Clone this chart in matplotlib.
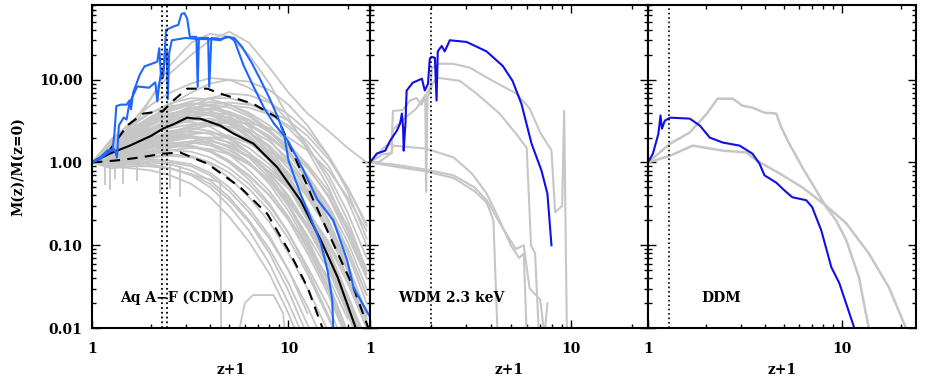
import numpy as np
import matplotlib
matplotlib.use("Agg")
import matplotlib.pyplot as plt
from matplotlib.ticker import LogLocator, FixedLocator, FixedFormatter, NullFormatter

plt.rcParams['font.family'] = ['DejaVu Serif']
plt.rcParams['font.weight'] = 'bold'

GRAY = '#c6c6c6'
BLUE_CDM = '#1f66ff'
BLUE = '#1010e6'

# ---------------- Panel 1: Aq A-F (CDM) ----------------
cdm_x = [1, 1.25, 1.6, 2.0, 2.5, 3.2, 4.0, 5.0, 6.3, 8.0, 10, 12.5, 16, 20, 25]
cdm_gray = [
    [1, 1.1, 1.3, 1.5, 1.7, 1.8, 1.7, 1.4, 1.0, 0.6, 0.3, 0.13, 0.05, 0.015, 0.004],
    [1, 1.2, 1.6, 2.0, 2.4, 2.6, 2.4, 1.9, 1.3, 0.75, 0.38, 0.16, 0.055, 0.016, 0.004],
    [1, 1.5, 2.2, 3.0, 3.8, 4.4, 4.2, 3.4, 2.3, 1.3, 0.65, 0.28, 0.09, 0.025, 0.006],
    [1, 0.95, 1.0, 1.05, 1.0, 0.9, 0.7, 0.45, 0.25, 0.12, 0.05, 0.018, 0.005],
    [1, 1.3, 1.9, 2.6, 3.3, 4.0, 4.4, 4.0, 3.0, 1.9, 1.0, 0.45, 0.15, 0.04, 0.01],
    [1, 1.05, 1.2, 1.35, 1.4, 1.35, 1.15, 0.85, 0.55, 0.3, 0.14, 0.055, 0.018, 0.005],
    [1, 1.7, 2.8, 4.0, 5.2, 6.0, 5.8, 5.0, 3.8, 2.5, 1.3, 0.6, 0.2, 0.055, 0.013],
    [1, 1.15, 1.45, 1.75, 2.0, 2.1, 1.9, 1.5, 1.0, 0.55, 0.26, 0.1, 0.03, 0.008],
    [1, 1.4, 2.0, 2.6, 3.0, 3.1, 2.7, 2.0, 1.3, 0.7, 0.32, 0.12, 0.035, 0.009],
    [1, 1.2, 1.5, 1.8, 2.2, 2.7, 3.0, 3.0, 2.5, 1.8, 1.1, 0.55, 0.2, 0.06, 0.015],
    [1, 1.0, 1.1, 1.2, 1.25, 1.2, 1.0, 0.75, 0.48, 0.26, 0.12, 0.045, 0.013, 0.004],
    [1, 1.6, 2.5, 3.4, 4.4, 5.2, 5.0, 4.0, 2.7, 1.5, 0.7, 0.28, 0.08, 0.02, 0.005],
    [1, 1.25, 1.7, 2.2, 2.8, 3.5, 3.8, 3.5, 2.8, 2.0, 1.3, 0.7, 0.3, 0.11, 0.03],
    [1, 0.9, 0.95, 1.0, 0.95, 0.8, 0.6, 0.38, 0.2, 0.09, 0.035, 0.011, 0.003],
    [1, 1.35, 1.9, 2.5, 3.2, 3.8, 3.7, 3.0, 2.0, 1.1, 0.5, 0.2, 0.06, 0.015, 0.004],
    [1, 1.1, 1.35, 1.6, 1.9, 2.2, 2.3, 2.1, 1.7, 1.2, 0.75, 0.4, 0.16, 0.055, 0.015],
    [1, 1.8, 3.2, 5.0, 7.0, 9.0, 10.5, 10.0, 8.0, 5.5, 3.2, 1.6, 0.6, 0.2, 0.05],
    [1, 1.5, 2.4, 3.5, 5.0, 7.0, 9.0, 10.0, 9.5, 7.5, 5.0, 2.8, 1.2, 0.45, 0.12],
    [1, 1.3, 2.5, 6.0, 15.0, 28.0, 36.0, 33.0, 20.0, 9.0, 3.5, 1.4, 0.5, 0.15, 0.04],
    [1, 1.5, 3.0, 6.0, 12.0, 20.0, 30.0, 38.0, 28.0, 14.0, 7.0, 3.9, 2.4, 1.5, 1.0],
    [1, 1.2, 1.6, 2.1, 2.7, 3.3, 3.4, 2.9, 2.0, 1.2, 0.6, 0.25, 0.08, 0.02, 0.005],
    [1, 1.1, 1.3, 1.5, 1.6, 1.6, 1.4, 1.05, 0.7, 0.4, 0.2, 0.08, 0.025, 0.007],
    [1, 1.45, 2.2, 3.0, 3.8, 4.6, 5.0, 4.6, 3.6, 2.4, 1.4, 0.7, 0.28, 0.09, 0.025],
    [1, 1.05, 1.15, 1.3, 1.5, 1.7, 1.8, 1.6, 1.2, 0.75, 0.4, 0.17, 0.06, 0.017, 0.005],
    [1, 1.25, 1.6, 2.0, 2.3, 2.4, 2.2, 1.7, 1.15, 0.65, 0.3, 0.11, 0.03, 0.008],
    [1, 0.95, 1.05, 1.15, 1.2, 1.15, 0.95, 0.65, 0.38, 0.19, 0.08, 0.03, 0.009],
    [1, 1.9, 3.0, 4.0, 4.8, 5.2, 4.8, 3.7, 2.4, 1.35, 0.65, 0.26, 0.08, 0.02, 0.005],
    [1, 1.35, 1.8, 2.4, 3.1, 3.7, 4.0, 3.8, 3.2, 2.4, 1.6, 0.95, 0.45, 0.17, 0.05],
    [1, 1.15, 1.4, 1.7, 2.0, 2.3, 2.3, 2.0, 1.5, 0.95, 0.5, 0.22, 0.08, 0.022, 0.006],
    [1, 0.85, 0.9, 0.9, 0.85, 0.7, 0.5, 0.3, 0.15, 0.06, 0.02, 0.006],
    [1, 1.3, 1.7, 2.2, 2.9, 3.7, 4.5, 4.9, 4.6, 3.8, 2.8, 1.8, 0.9, 0.35, 0.1],
    [1, 1.1, 1.25, 1.4, 1.6, 1.8, 2.0, 2.0, 1.8, 1.4, 0.95, 0.55, 0.25, 0.09, 0.025],
    [1, 1.6, 2.6, 3.6, 4.6, 5.5, 6.0, 6.0, 5.2, 3.9, 2.6, 1.5, 0.7, 0.25, 0.07],
    [1, 1.0, 1.2, 1.4, 1.55, 1.55, 1.35, 1.0, 0.62, 0.32, 0.14, 0.05, 0.014, 0.004],
    [1, 0.9, 0.85, 0.8, 0.7, 0.55, 0.38, 0.22, 0.11, 0.045, 0.015, 0.004],
    [1, 0.95, 0.95, 0.9, 0.85, 0.72, 0.55, 0.35, 0.19, 0.08, 0.028, 0.008],
    [1, 1.0, 1.05, 1.1, 1.05, 0.95, 0.75, 0.5, 0.28, 0.13, 0.05, 0.015],
    [1, 1.3, 1.8, 2.3, 2.9, 3.3, 3.2, 2.6, 1.8, 1.05, 0.52, 0.22, 0.07, 0.02, 0.005],
    [1, 1.2, 1.55, 1.9, 2.3, 2.8, 3.2, 3.3, 2.9, 2.1, 1.3, 0.65, 0.25, 0.08, 0.02],
    [1, 1.4, 2.1, 2.9, 3.6, 4.1, 3.9, 3.1, 2.1, 1.2, 0.6, 0.25, 0.08, 0.022, 0.006],
    [1, 1.1, 1.4, 1.7, 2.1, 2.5, 2.8, 2.7, 2.3, 1.6, 0.95, 0.48, 0.18, 0.055, 0.015],
    [1, 1.25, 1.6, 1.9, 2.1, 2.0, 1.7, 1.25, 0.8, 0.45, 0.22, 0.09, 0.028, 0.008],
    [1, 1.5, 2.3, 3.2, 4.2, 5.0, 5.4, 5.0, 4.0, 2.8, 1.7, 0.9, 0.38, 0.13, 0.04],
    [1, 1.05, 1.25, 1.5, 1.8, 2.0, 2.0, 1.75, 1.3, 0.85, 0.5, 0.26, 0.1, 0.035, 0.01],
    [1, 1.3, 1.75, 2.2, 2.6, 2.9, 2.9, 2.5, 1.9, 1.25, 0.75, 0.38, 0.15, 0.05, 0.014],
    [1, 1.2, 1.45, 1.7, 1.9, 2.0, 1.85, 1.55, 1.15, 0.78, 0.48, 0.26, 0.11, 0.04, 0.012],
    [1, 1.6, 2.4, 3.2, 3.9, 4.4, 4.5, 4.1, 3.3, 2.3, 1.5, 0.85, 0.4, 0.15, 0.045],
    [1, 1.15, 1.35, 1.55, 1.7, 1.75, 1.6, 1.3, 0.95, 0.6, 0.34, 0.16, 0.06, 0.02, 0.006],
    [1, 1.35, 1.9, 2.6, 3.4, 4.3, 5.0, 5.3, 5.0, 4.2, 3.2, 2.1, 1.1, 0.5, 0.18],
    [1, 1.7, 2.6, 3.3, 3.9, 4.2, 3.9, 3.2, 2.3, 1.5, 0.85, 0.42, 0.16, 0.05, 0.013],
    [1, 1.0, 1.1, 1.25, 1.4, 1.5, 1.45, 1.25, 0.95, 0.62, 0.36, 0.18, 0.07, 0.025, 0.007],
    [1, 1.4, 2.0, 2.8, 3.7, 4.8, 6.0, 6.8, 6.5, 5.3, 3.8, 2.4, 1.2, 0.5, 0.17],
    [1, 1.25, 1.5, 1.65, 1.7, 1.6, 1.35, 1.0, 0.68, 0.4, 0.21, 0.1, 0.04, 0.013],
    [1, 1.1, 1.3, 1.6, 2.0, 2.5, 2.9, 3.1, 3.0, 2.6, 2.0, 1.4, 0.8, 0.38, 0.15],
]
# a few irregular gray tracks with their own sampling
cdm_extra_x = [
    [1, 1.25, 1.6, 2.0, 2.5, 3.2, 4.0, 4.5, 4.55],
    [5.3, 6.0, 6.6, 8.4, 9.4, 9.8],
]
cdm_extra_y = [
    [1, 1.0, 1.0, 0.95, 0.85, 0.72, 0.62, 0.58, 0.005],
    [0.005, 0.02, 0.025, 0.025, 0.015, 0.005],
]
# short downward glitches in the gray tracks (x, top, bottom)
cdm_glitch_x = [1.165, 1.24, 1.31, 1.44, 1.70, 2.22, 2.50, 2.81]
cdm_glitch_top = [0.95, 0.95, 0.9, 0.95, 0.9, 0.9, 0.95, 0.9]
cdm_glitch_bot = [0.53, 0.46, 0.64, 0.55, 0.60, 0.42, 0.48, 0.38]

med_x = [1, 1.25, 1.56, 2.0, 2.3, 2.6, 3.05, 3.3, 3.55, 4.5, 5.24, 6.63, 8.78, 11.5, 14.6, 17.8, 22.0]
med_y = [1, 1.3, 1.6, 2.1, 2.57, 2.9, 3.48, 3.4, 3.39, 2.79, 2.24, 1.69, 0.87, 0.35, 0.115, 0.041, 0.01]
up_x = [1, 1.2, 1.51, 1.82, 2.3, 2.59, 3.05, 3.86, 4.5, 6.63, 8.78, 10.6, 13.4, 17.8, 21.4, 25.5]
up_y = [1, 1.3, 2.79, 3.89, 4.2, 5.58, 7.8, 7.8, 6.8, 5.1, 3.48, 1.28, 0.35, 0.08, 0.031, 0.01]
lo_x = [1, 1.34, 1.76, 2.3, 2.81, 3.86, 5.69, 7.8, 10.2, 12.5, 14.9]
lo_y = [1, 1.06, 1.15, 1.28, 1.32, 0.97, 0.50, 0.24, 0.08, 0.031, 0.01]

blue1_x = [1.0, 1.1, 1.2, 1.27, 1.3, 1.33, 1.4, 1.5, 1.55, 1.58, 1.62, 1.75, 1.85, 2.0, 2.15,
           2.2, 2.24, 2.28, 2.33, 2.38, 2.6, 2.75, 2.85, 2.95, 3.05, 3.15, 3.3, 3.4, 3.45, 3.5,
           3.9, 3.95, 4.05, 4.5, 5.0, 5.3, 5.9, 6.6, 7.5, 8.4, 9.9, 11.8, 14.0, 16.9, 19.9, 21.4, 26.0]
blue1_y = [1.0, 1.1, 1.3, 1.4, 2.2, 4.8, 5.0, 5.0, 5.6, 4.4, 7.0, 11.5, 14.5, 15.5, 16.5,
           24, 12, 11, 16, 40, 44, 46, 62, 64, 55, 33, 33, 33, 8.2, 32,
           32, 8.2, 32, 31, 33, 30, 15, 8.5, 4.6, 3.0, 1.85, 0.85, 0.36, 0.2, 0.066, 0.031, 0.0136]
blue2_x = [1.0, 1.1, 1.2, 1.3, 1.34, 1.37, 1.45, 1.5, 1.55, 1.62, 1.7, 1.95, 2.1, 2.15, 2.2,
           2.25, 2.3, 2.35, 2.4, 2.43, 2.47, 2.55, 3.0, 3.5, 4.0, 4.5, 4.8, 5.3, 5.8, 6.5,
           7.2, 8.0, 8.8, 9.5, 10.0, 11.5, 12.9, 14.6, 15.8, 16.7, 16.9]
blue2_y = [1.0, 1.15, 1.4, 1.45, 1.15, 2.8, 3.5, 3.3, 5.2, 6.5, 8.3, 8.0, 9.3, 5.5, 9.0,
           12.5, 10.5, 20, 22, 5.8, 21, 30, 32, 31, 31, 30, 33, 32, 25, 16,
           10, 6, 3.6, 2.2, 1.06, 0.42, 0.22, 0.106, 0.05, 0.022, 0.01]
cdm_zre = [2.28, 2.40]

# ---------------- Panel 2: WDM 2.3 keV ----------------
wdm_gray_x = [
    [1, 1.1, 1.2, 1.28, 1.3, 1.45, 1.58, 1.7, 1.8, 1.9, 2.0, 2.03, 2.22, 2.58, 3.13, 4.06, 5.33, 6.2, 7.0, 7.96, 8.3, 9.0, 9.2, 9.5],
    [1, 1.15, 1.28, 1.3, 1.5, 1.7, 1.88, 1.9, 1.93, 2.05, 2.14, 2.79, 3.38, 4.4, 5.33, 6.0, 6.3, 6.6, 6.9],
    [1, 1.1, 1.28, 1.3, 1.9, 2.6, 3.2, 3.8, 4.4, 5.0, 5.5, 5.8, 6.0],
    [1, 1.3, 1.9, 2.6, 3.3, 3.79, 4.1, 4.3],
    [1, 1.3, 1.9, 2.6, 3.3, 3.8, 4.5, 5.3, 5.8, 6.2, 7.0, 7.35, 7.6],
]
wdm_gray_y = [
    [1, 1.3, 1.6, 1.7, 4.2, 4.3, 5.6, 6.0, 5.0, 6.5, 8.5, 14, 15.6, 15.6, 14, 9.7, 6.8, 4.5, 2.3, 1.4, 0.25, 0.3, 4.2, 0.008],
    [1, 1.25, 1.3, 2.5, 3.5, 4.5, 6.5, 0.44, 6.0, 9.0, 10.6, 9.7, 6.8, 3.9, 2.2, 1.5, 0.1, 0.08, 0.008],
    [1, 1.0, 1.3, 1.6, 1.47, 1.15, 0.74, 0.42, 0.2, 0.1, 0.07, 0.08, 0.008],
    [1, 0.9, 0.78, 0.65, 0.45, 0.33, 0.2, 0.008],
    [1, 0.95, 0.82, 0.7, 0.5, 0.35, 0.17, 0.09, 0.1, 0.03, 0.022, 0.008, 0.02],
]
wdm_blue_x = [1, 1.08, 1.19, 1.26, 1.36, 1.41, 1.44, 1.46, 1.47, 1.5, 1.52, 1.63, 1.81, 1.87, 1.94,
              1.98, 2.02, 2.10, 2.14, 2.17, 2.27, 2.35, 2.49, 3.02, 3.79, 4.56, 5.1, 5.65, 6.34,
              7.1, 7.6, 7.96]
wdm_blue_y = [1, 1.28, 1.39, 1.84, 2.43, 2.95, 3.9, 2.6, 1.39, 3.0, 7.4, 9.2, 10.3, 7.4, 8.9,
              17.9, 18.9, 18.4, 5.6, 22, 25.6, 22, 30, 28.6, 22, 14.7, 9.7, 5.1, 1.69,
              0.8, 0.42, 0.1]
wdm_zre = [2.0]

# ---------------- Panel 3: DDM ----------------
ddm_gray_x = [
    [1, 1.30, 1.64, 2.01, 2.28, 2.73, 3.07, 3.45, 3.98, 4.58, 4.86, 5.34, 6.24, 7.35, 8.27, 9.3, 10.5, 12.2, 13.7],
    [1, 1.30, 1.70, 2.43, 3.22, 3.62, 4.75, 6.24, 8.27, 10.5, 13.7, 17.4, 21.3],
]
ddm_gray_y = [
    [1, 1.69, 2.3, 3.9, 5.9, 5.9, 4.85, 4.6, 4.0, 3.9, 2.64, 1.69, 0.87, 0.46, 0.29, 0.2, 0.115, 0.041, 0.01],
    [1, 1.21, 1.6, 1.39, 1.32, 1.06, 0.74, 0.50, 0.30, 0.184, 0.08, 0.031, 0.01],
]
ddm_blue_x = [1, 1.06, 1.13, 1.16, 1.18, 1.22, 1.30, 1.64, 1.85, 2.08, 2.43, 2.96, 3.45, 3.75,
              3.98, 4.58, 5.04, 5.54, 6.53, 7.0, 7.8, 8.8, 9.66, 11.5]
ddm_blue_y = [1, 1.28, 2.2, 3.7, 2.56, 3.2, 3.48, 3.39, 2.79, 2.0, 1.74, 1.6, 1.28, 0.97,
              0.70, 0.57, 0.46, 0.38, 0.35, 0.29, 0.152, 0.054, 0.035, 0.0103]
ddm_zre = [1.29]

labels = ['Aq A\u2212F (CDM)', 'WDM 2.3 keV', 'DDM']

W, H = 926, 382
fig = plt.figure(figsize=(W / 100, H / 100), dpi=100)

# axes boxes in pixels: left, right, and xmax so decades match the original
boxes = [(92, 370, 26.0), (370, 648, 24.0), (648, 916, 24.0)]
top_px, bot_px = 5, 328
axes = []
for (l, r, xmax) in boxes:
    ax = fig.add_axes([l / W, 1 - bot_px / H, (r - l) / W, (bot_px - top_px) / H])
    ax.set_xscale('log')
    ax.set_yscale('log')
    ax.set_xlim(1, xmax)
    ax.set_ylim(0.01, 80)
    for s in ax.spines.values():
        s.set_linewidth(1.5)
    ax.xaxis.set_major_locator(FixedLocator([1, 10]))
    ax.xaxis.set_major_formatter(FixedFormatter(['1', '10']))
    ax.xaxis.set_minor_locator(LogLocator(base=10, subs=np.arange(2, 10)))
    ax.xaxis.set_minor_formatter(NullFormatter())
    ax.yaxis.set_major_locator(FixedLocator([0.01, 0.1, 1, 10]))
    ax.yaxis.set_minor_locator(LogLocator(base=10, subs=np.arange(2, 10)))
    ax.yaxis.set_minor_formatter(NullFormatter())
    ax.tick_params(which='both', direction='in', top=True, right=True, width=1.0)
    ax.tick_params(which='major', length=6, labelsize=10, pad=7)
    ax.tick_params(axis='x', which='major', pad=10)
    ax.tick_params(which='minor', length=3)
    ax.set_xlabel('z+1', fontsize=10, fontweight='bold', labelpad=5)
    axes.append(ax)

axes[0].yaxis.set_major_formatter(FixedFormatter(['0.01', '0.10', '1.00', '10.00']))
axes[0].set_ylabel('M(z)/M(z=0)', fontsize=10, fontweight='bold', labelpad=10)
for ax in axes[1:]:
    ax.yaxis.set_major_formatter(NullFormatter())

# panel 1
ax = axes[0]
for row in cdm_gray:
    ax.plot(cdm_x[:len(row)], row, color=GRAY, lw=1.3)
for xs, ys in zip(cdm_extra_x, cdm_extra_y):
    ax.plot(xs, ys, color=GRAY, lw=1.3)
ax.vlines(cdm_glitch_x, cdm_glitch_bot, cdm_glitch_top, color=GRAY, lw=1.3)
ax.plot(lo_x, lo_y, color='black', lw=1.5, dashes=(5, 3.5))
ax.plot(up_x, up_y, color='black', lw=1.5, dashes=(5, 3.5))
ax.plot(med_x, med_y, color='black', lw=1.5)
ax.plot(blue2_x, blue2_y, color=BLUE_CDM, lw=1.5)
ax.plot(blue1_x, blue1_y, color=BLUE_CDM, lw=1.5)
for z in cdm_zre:
    ax.axvline(z, color='black', lw=1.3, ls=':')

# panel 2
ax = axes[1]
for xs, ys in zip(wdm_gray_x, wdm_gray_y):
    ax.plot(xs, ys, color=GRAY, lw=1.5)
ax.plot(wdm_blue_x, wdm_blue_y, color=BLUE, lw=1.5)
for z in wdm_zre:
    ax.axvline(z, color='black', lw=1.2, ls=':')

# panel 3
ax = axes[2]
for xs, ys in zip(ddm_gray_x, ddm_gray_y):
    ax.plot(xs, ys, color=GRAY, lw=1.8)
ax.plot(ddm_blue_x, ddm_blue_y, color=BLUE, lw=1.5)
for z in ddm_zre:
    ax.axvline(z, color='black', lw=1.2, ls=':')

label_pos = [(0.1, 0.093), (0.1, 0.093), (0.2, 0.093)]
for ax, lab, (tx, ty) in zip(axes, labels, label_pos):
    ax.text(tx, ty, lab, transform=ax.transAxes, fontsize=10, fontweight='bold',
            ha='left', va='center')

fig.savefig('out.png', dpi=100)
